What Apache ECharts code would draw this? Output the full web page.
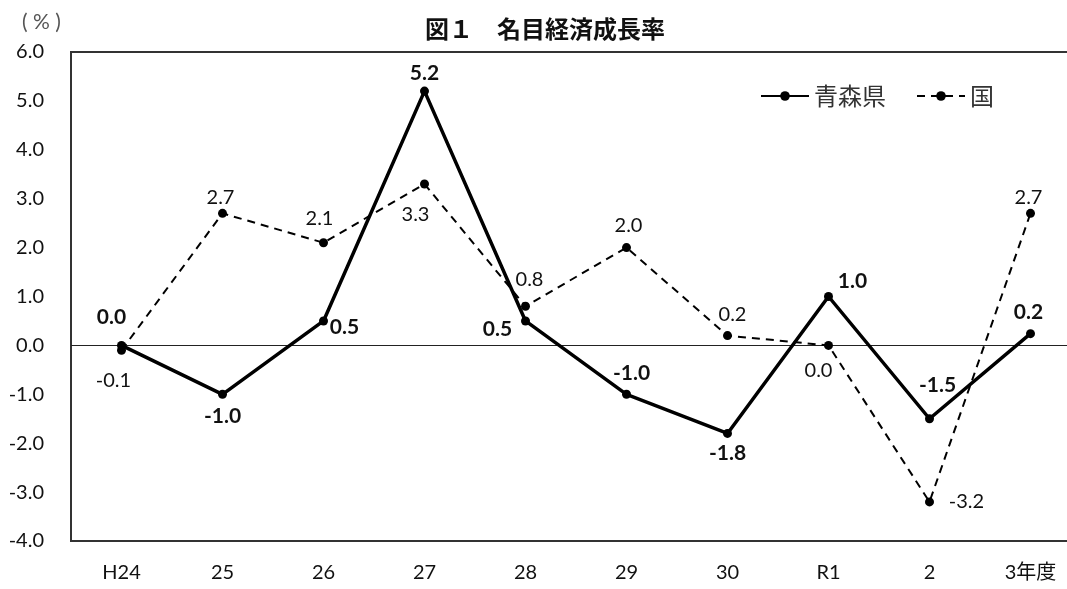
<!DOCTYPE html>
<html>
<head>
<meta charset="utf-8">
<script src="https://cdn.jsdelivr.net/npm/echarts@6/dist/echarts.min.js"></script>
<style>
html,body{margin:0;padding:0;background:#fff;overflow:hidden;width:1067px;height:589px;}
#chart{width:1081px;height:589px;}
</style>
</head>
<body>
<div id="chart"></div>
<script>
// ---- data ----
const categories = ['H24', '25', '26', '27', '28', '29', '30', 'R1', '2', '3年度'];
const aomori = [0.0, -1.0, 0.5, 5.2, 0.5, -1.0, -1.8, 1.0, -1.5, 0.24];
const kuni = [-0.1, 2.7, 2.1, 3.3, 0.8, 2.0, 0.2, 0.0, -3.2, 2.7];
const seriesNames = ['青森県', '国'];
const yMin = -4, yMax = 6, yInterval = 1;

// ---- label placement (styling only) ----
const aomoriLabelOffsets = [[-10,-28],[0,22],[21,6],[0,-18],[-28,8],[5,-21],[0,20],[24,-15],[8,-34],[-2,-21]];
const kuniLabelOffsets = [[-8,30],[-2,-16],[-4,-24],[-9,31],[4,-27],[2,-22],[5,-21],[-10,25],[37,0],[-2,-16]];

const FONT = "Lato, 'Noto Sans', 'Noto Sans CJK JP', sans-serif";
const CJK = "'Noto Sans CJK JP', sans-serif";

function buildData(values, offsets, bold) {
  return values.map((v, i) => ({
    value: v,
    label: {
      show: true,
      position: 'inside',
      offset: offsets[i],
      color: '#111',
      fontFamily: FONT,
      fontSize: bold ? 21 : 20,
      fontWeight: bold ? 'bold' : 'normal',
      textBorderWidth: 0,
      formatter: (p) => Number(p.value).toFixed(1)
    }
  }));
}

const chart = echarts.init(document.getElementById('chart'));
chart.setOption({
  animation: false,
  backgroundColor: '#fff',
  title: [{
    text: '図１　名目経済成長率',
    left: 420,
    top: 12,
    textStyle: { fontFamily: CJK, fontSize: 24, fontWeight: 'bold', color: '#111' }
  }, {
    text: '( % )',
    left: 22,
    top: 12,
    padding: 0,
    textStyle: { fontFamily: "Lato, sans-serif", fontSize: 21, fontWeight: 'normal', color: '#555' }
  }],
  legend: {
    data: seriesNames,
    left: 755,
    top: 79,
    itemWidth: 48,
    itemHeight: 12,
    itemGap: 30,
    textStyle: { fontFamily: CJK, fontSize: 24, color: '#333' }
  },
  grid: {
    left: 71, top: 52, right: 0, bottom: 48,
    show: true, borderColor: '#333', borderWidth: 2, backgroundColor: 'transparent'
  },
  xAxis: {
    type: 'category',
    data: categories,
    boundaryGap: true,
    axisLine: { show: true, onZero: false, lineStyle: { color: '#333', width: 2 } },
    axisTick: { show: false },
    axisLabel: { margin: 22, fontFamily: FONT, fontSize: 20, color: '#111' },
    splitLine: { show: false }
  },
  yAxis: {
    type: 'value',
    min: yMin, max: yMax, interval: yInterval,
    axisLine: { show: true, lineStyle: { color: '#333', width: 2 } },
    axisTick: { show: false },
    splitLine: { show: false },
    axisLabel: { margin: 27, fontFamily: FONT, fontSize: 20, color: '#111',
      formatter: (v) => v.toFixed(1) }
  },
  series: [
    {
      name: seriesNames[0],
      type: 'line',
      data: buildData(aomori, aomoriLabelOffsets, true),
      symbol: 'circle',
      symbolSize: 9,
      itemStyle: { color: '#000' },
      lineStyle: { color: '#000', width: 3.5, type: 'solid' },
      z: 5,
      markLine: {
        silent: true,
        symbol: 'none',
        label: { show: false },
        lineStyle: { color: '#222', width: 1, type: 'solid' },
        data: [{ yAxis: 0 }],
        z: 1
      }
    },
    {
      name: seriesNames[1],
      type: 'line',
      data: buildData(kuni, kuniLabelOffsets, false),
      symbol: 'circle',
      symbolSize: 9,
      itemStyle: { color: '#000' },
      lineStyle: { color: '#000', width: 2, type: [8, 6] },
      z: 4
    }
  ]
});
</script>
</body>
</html>
